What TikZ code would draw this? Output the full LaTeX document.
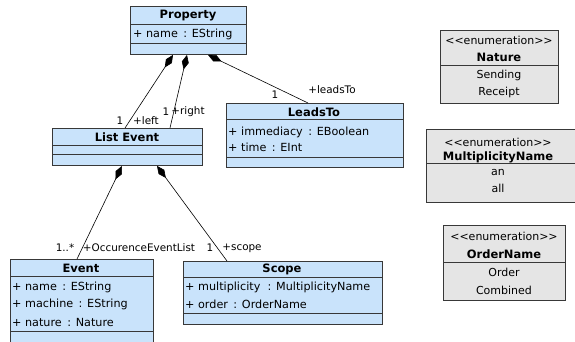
\documentclass[tikz,border=0pt]{standalone}
\usepackage{fontspec}
\setmainfont{DejaVu Sans}
\usetikzlibrary{arrows.meta,calc}
\definecolor{classfill}{HTML}{C9E3FB}
\definecolor{enumfill}{HTML}{E5E5E5}
\definecolor{edge}{HTML}{383838}
\newcommand{\stereo}[1]{{<}{<}#1{>}{>}}
\tikzset{
  box/.style={draw=edge, line width=0.9pt, inner sep=0pt, anchor=north west},
  classbox/.style={box, fill=classfill},
  enumbox/.style={box, fill=enumfill},
  divider/.style={draw=edge, line width=0.9pt},
  title/.style={font=\fontsize{11.5}{13}\selectfont\bfseries, inner sep=0pt},
  attr/.style={font=\fontsize{11.2}{13}\selectfont, inner sep=0pt, anchor=west},
  enumtxt/.style={font=\fontsize{11}{13}\selectfont, inner sep=0pt},
  role/.style={font=\fontsize{10.4}{12}\selectfont, inner sep=0pt},
  comp/.style={draw=black, line width=0.6pt, {Diamond[length=15pt,width=7pt]}-}
}
\begin{document}
\begin{tikzpicture}[x=1pt,y=-1pt]
\useasboundingbox (0,0) rectangle (575,342);

% ---- classes ----
\node[classbox, minimum width=116pt, minimum height=48pt] (property) at (130,6) {};
\draw[divider] ([yshift=-18pt]property.north west) -- ([yshift=-18pt]property.north east);
\draw[divider] ([yshift=-37pt]property.north west) -- ([yshift=-37pt]property.north east);
\node[title] (property-t) at (188,16) {Property};
\node[attr] (property-a1) at (133,34) {+ name\, : EString};

\node[classbox, minimum width=150pt, minimum height=37pt] (listevent) at (52,128) {};
\draw[divider] ([yshift=-17pt]listevent.north west) -- ([yshift=-17pt]listevent.north east);
\draw[divider] ([yshift=-26pt]listevent.north west) -- ([yshift=-26pt]listevent.north east);
\node[title] (listevent-t) at (127,137) {List Event};

\node[classbox, minimum width=177pt, minimum height=64pt] (leadsto) at (226,103) {};
\draw[divider] ([yshift=-16pt]leadsto.north west) -- ([yshift=-16pt]leadsto.north east);
\draw[divider] ([yshift=-54pt]leadsto.north west) -- ([yshift=-54pt]leadsto.north east);
\node[title] (leadsto-t) at (314,112) {LeadsTo};
\node[attr] (leadsto-a1) at (228,132) {+ immediacy\, : EBoolean};
\node[attr] (leadsto-a2) at (228,147) {+ time\, : EInt};

\node[classbox, minimum width=143pt, minimum height=83pt] (event) at (10,259) {};
\draw[divider] ([yshift=-17pt]event.north west) -- ([yshift=-17pt]event.north east);
\draw[divider] ([yshift=-72pt]event.north west) -- ([yshift=-72pt]event.north east);
\node[title] (event-t) at (81,268) {Event};
\node[attr] (event-a1) at (12,287) {+ name\, : EString};
\node[attr] (event-a2) at (12,304) {+ machine\, : EString};
\node[attr] (event-a3) at (12,322) {+ nature\, : Nature};

\node[classbox, minimum width=199pt, minimum height=63pt] (scope) at (183,261) {};
\draw[divider] ([yshift=-16pt]scope.north west) -- ([yshift=-16pt]scope.north east);
\draw[divider] ([yshift=-52pt]scope.north west) -- ([yshift=-52pt]scope.north east);
\node[title] (scope-t) at (282,269) {Scope};
\node[attr] (scope-a1) at (185,287) {+ multiplicity\,\, : MultiplicityName};
\node[attr] (scope-a2) at (185,304) {+ order\, : OrderName};

% ---- enumerations ----
\node[enumbox, minimum width=118pt, minimum height=73pt] (nature) at (440,30) {};
\draw[divider] ([yshift=-35pt]nature.north west) -- ([yshift=-35pt]nature.north east);
\node[enumtxt] (nature-s) at (499,40) {\stereo{enumeration}};
\node[title] (nature-t) at (499,57) {Nature};
\node[enumtxt] (nature-v1) at (499,75) {Sending};
\node[enumtxt] (nature-v2) at (499,92) {Receipt};

\node[enumbox, minimum width=149pt, minimum height=73pt] (multname) at (426,129) {};
\draw[divider] ([yshift=-34pt]multname.north west) -- ([yshift=-34pt]multname.north east);
\node[enumtxt] (multname-s) at (498,142) {\stereo{enumeration}};
\node[title] (multname-t) at (498,157) {MultiplicityName};
\node[enumtxt] (multname-v1) at (498,172) {an};
\node[enumtxt] (multname-v2) at (498,188) {all};

\node[enumbox, minimum width=122pt, minimum height=75pt] (ordername) at (443,225) {};
\draw[divider] ([yshift=-37pt]ordername.north west) -- ([yshift=-37pt]ordername.north east);
\node[enumtxt] (ordername-s) at (504,236) {\stereo{enumeration}};
\node[title] (ordername-t) at (504,254) {OrderName};
\node[enumtxt] (ordername-v1) at (504,272) {Order};
\node[enumtxt] (ordername-v2) at (504,290) {Combined};

% ---- compositions ----
\draw[comp] ([xshift=43pt]property.south west) -- ([xshift=73pt]listevent.north west);
\draw[comp] ([xshift=57pt]property.south west) -- ([xshift=118pt]listevent.north west);
\draw[comp] ([xshift=78pt]property.south west) -- ([xshift=82pt]leadsto.north west);
\draw[comp] ([xshift=70pt]listevent.south west) -- ([xshift=67pt]event.north west);
\draw[comp] ([xshift=105pt]listevent.south west) -- ([xshift=44pt]scope.north west);

% ---- role names and multiplicities ----
\node[role] (m-left) at (120,121) {1};
\node[role] (r-left) at (146,121) {+left};
\node[role] (m-right) at (166,112) {1};
\node[role] (r-right) at (188,112) {+right};
\node[role] (m-leads) at (275,95) {1};
\node[role] (r-leads) at (332,90) {+leadsTo};
\node[role] (m-occ) at (65,248) {1..*};
\node[role] (r-occ) at (139,248) {+OccurenceEventList};
\node[role] (m-scope) at (210,248) {1};
\node[role] (r-scope) at (242,248) {+scope};
\end{tikzpicture}
\end{document}
